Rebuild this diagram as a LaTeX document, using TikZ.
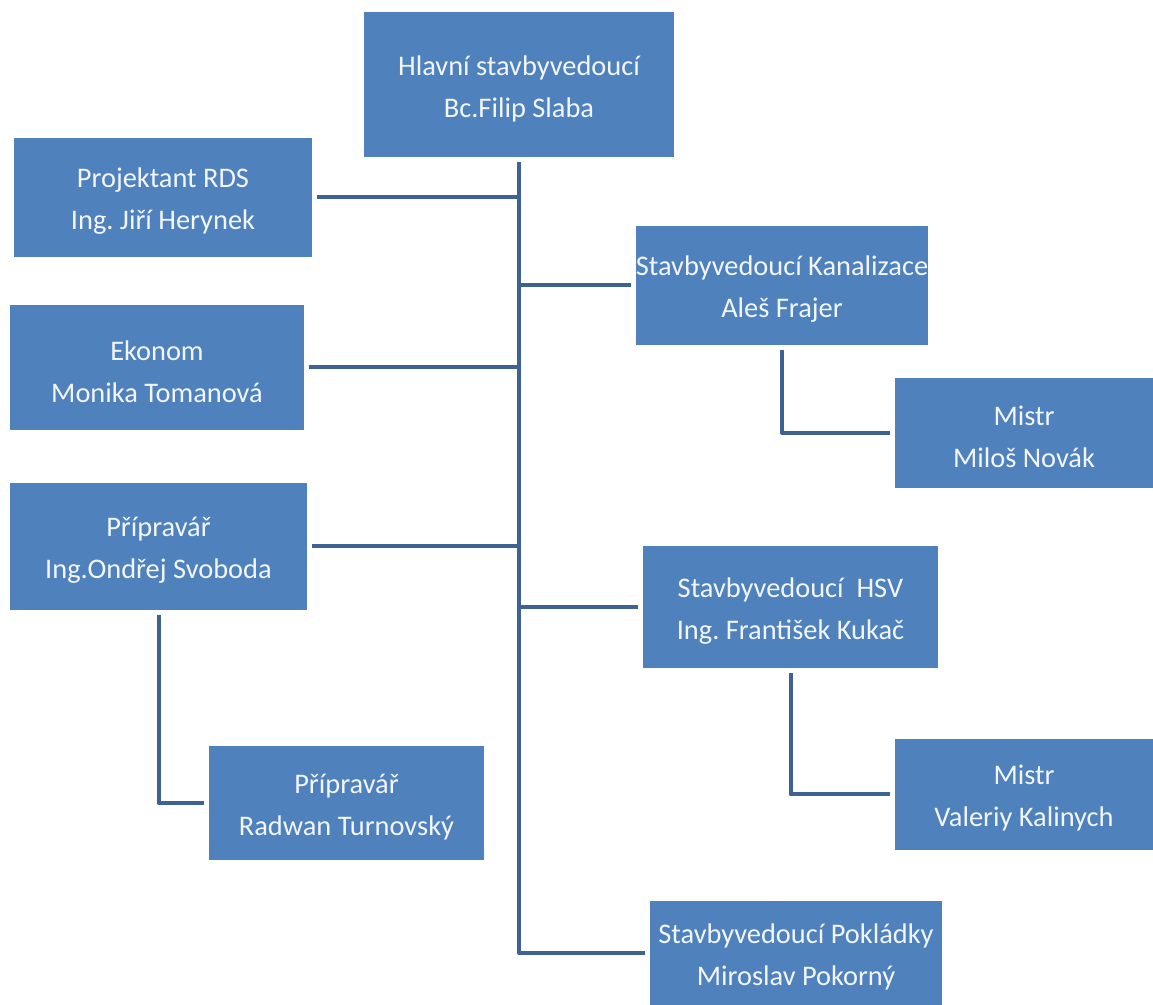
\documentclass[tikz,border=0pt]{standalone}
\usepackage{fontspec}
\setmainfont{Carlito}
\usepackage{tikz}
\usetikzlibrary{fit}
\definecolor{boxblue}{HTML}{4F81BD}
\definecolor{linkblue}{HTML}{3F6294}
\definecolor{boxtext}{HTML}{F2F6FB}
\frenchspacing

\begin{document}
\begin{tikzpicture}[x=0.5pt,y=-0.5pt,
    role/.style={fill=boxblue,inner sep=0pt,outer sep=2.5pt},
    roletext/.style={text=boxtext,align=center,yshift=-2pt,
        font=\fontsize{14.2}{21}\selectfont},
    link/.style={draw=linkblue,line width=2pt,line join=round}]
    \useasboundingbox (0,0) rectangle (1153,1005);
    % boxes
    \node[role,fit={(364,12) (674,157)}] (head) {};
    \node[role,fit={(14,138) (312,257)}] (rds) {};
    \node[role,fit={(636,226) (928,345)}] (kan) {};
    \node[role,fit={(10,305) (304,430)}] (eko) {};
    \node[role,fit={(895,378) (1153,488)}] (mil) {};
    \node[role,fit={(10,483) (307,610)}] (pri) {};
    \node[role,fit={(643,546) (938,668)}] (hsv) {};
    \node[role,fit={(209,746) (484,860)}] (rad) {};
    \node[role,fit={(895,739) (1153,850)}] (val) {};
    \node[role,fit={(650,901) (942,1005)}] (pok) {};
    % texts
    \node[roletext] at (head) {Hlavní stavbyvedoucí\\Bc.Filip Slaba};
    \node[roletext] at (rds) {Projektant RDS\\Ing. Jiří Herynek};
    \node[roletext] at (kan) {Stavbyvedoucí Kanalizace\\Aleš Frajer};
    \node[roletext] at (eko) {Ekonom\\Monika Tomanová};
    \node[roletext] at (mil) {Mistr\\Miloš Novák};
    \node[roletext] at (pri) {Přípravář\\Ing.Ondřej Svoboda};
    \node[roletext] at (hsv) {Stavbyvedoucí\ \ HSV\\Ing. František Kukač};
    \node[roletext] at (rad) {Přípravář\\Radwan Turnovský};
    \node[roletext] at (val) {Mistr\\Valeriy Kalinych};
    \node[roletext] at (pok) {Stavbyvedoucí Pokládky\\Miroslav Pokorný};
    % connectors
    \draw[link] (head.south) |- (pok.west);
    \foreach \who in {rds,eko,pri}
        \draw[link] (\who.east) -- (\who.east -| head.south);
    \foreach \who in {kan,hsv}
        \draw[link] (\who.west) -- (\who.west -| head.south);
    \draw[link] (kan.south) |- (mil.west);
    \draw[link] (hsv.south) |- (val.west);
    \draw[link] (pri.south) |- (rad.west);
\end{tikzpicture}
\end{document}
